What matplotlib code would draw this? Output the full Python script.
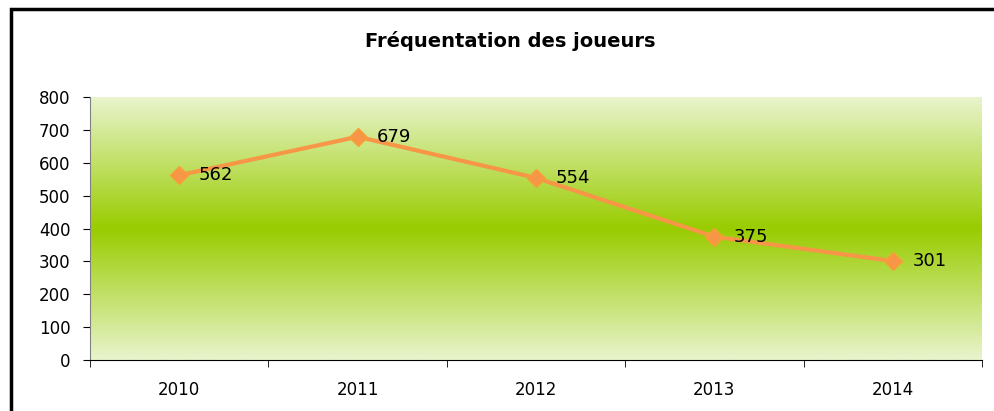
import numpy as np
import matplotlib.pyplot as plt
from matplotlib.colors import LinearSegmentedColormap
from matplotlib.patches import Rectangle

plt.rcParams['font.family'] = ['DejaVu Sans']

years = ['2010', '2011', '2012', '2013', '2014']
players = [562, 679, 554, 375, 301]
y_ticks = [0, 100, 200, 300, 400, 500, 600, 700, 800]

fig = plt.figure(figsize=(9.94, 4.11), dpi=100)
ax = fig.add_axes([90/994, 1 - 360/411, 892/994, 263/411])

# green band background, light at top and bottom
cmap = LinearSegmentedColormap.from_list('band', ['#e9f4cd', '#99cc00', '#e9f4cd'])
grad = np.linspace(0, 1, 256).reshape(-1, 1)
ax.imshow(grad, cmap=cmap, aspect='auto', extent=[-0.5, 4.5, 0, 800],
          origin='lower', zorder=0)

x = np.arange(len(years))
ax.plot(x, players, color='#f79646', lw=3, marker='D', markersize=9,
        markerfacecolor='#f79646', markeredgecolor='#f7a035', zorder=3)
for xi, v in zip(x, players):
    ax.annotate(str(v), (xi, v), xytext=(14, 0), textcoords='offset points',
                ha='left', va='center', fontsize=13, color='black', zorder=4)

ax.set_xlim(-0.5, 4.5)
ax.set_ylim(0, 800)
ax.set_yticks(y_ticks)
ax.set_xticks(x)
ax.set_xticklabels(years)
ax.set_xticks(np.arange(-0.5, 5, 1), minor=True)
ax.tick_params(axis='x', which='major', length=0, pad=15, labelsize=12)
ax.tick_params(axis='x', which='minor', length=5, direction='out')
ax.tick_params(axis='y', length=5, direction='out', labelsize=12, pad=9)
ax.spines['top'].set_visible(False)
ax.spines['right'].set_visible(False)
ax.spines['left'].set_color('#808080')
ax.spines['bottom'].set_color('black')

fig.text(510/994, 1 - 41/411, 'Fréquentation des joueurs', ha='center',
         va='center', fontsize=14, fontweight='bold')

fig.patches.append(Rectangle((11/994, -0.1), 1.0, 1 - 9/411 + 0.1, fill=False,
                             lw=2.5, edgecolor='black', transform=fig.transFigure))

fig.savefig('out.png', dpi=100)
